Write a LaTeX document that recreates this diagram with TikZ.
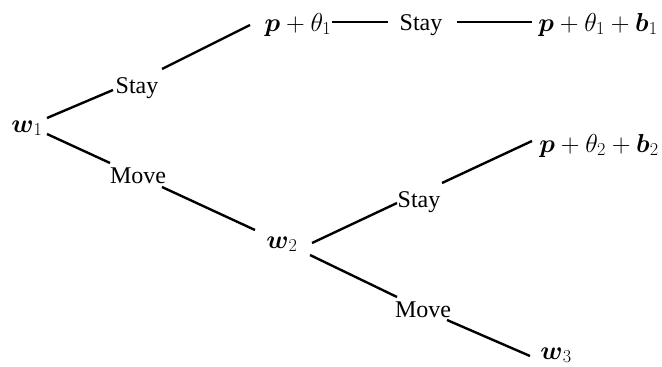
\RequirePackage{fix-cm}
\documentclass[tikz,border=0pt]{standalone}
\usepackage{amsmath}
\usepackage{fontspec}
\setmainfont{Liberation Serif}
\usetikzlibrary{calc}
\newcommand{\bv}[1]{\boldsymbol{#1}}
\begin{document}
\begin{tikzpicture}[x=1pt,y=-1pt,
  lbl/.style={anchor=base,inner sep=0pt,font=\fontsize{24}{28}\selectfont},
  mth/.style={anchor=base,inner sep=0pt,font=\fontsize{26}{31}\selectfont},
  edge/.style={line width=2.4pt},
  thinedge/.style={line width=1.4pt}]
\useasboundingbox (0,0) rectangle (662,367);
% nodes
\node[mth] (w1) at (27,132) {$\bv{w}_1$};
\node[lbl] (stay1) at (137,93) {Stay};
\node[lbl] (move1) at (138,183) {Move};
\node[mth] (p1) at (298,31) {$\bv{p} + \theta_1$};
\node[lbl] (stayT) at (421,30) {Stay};
\node[mth] (pb1) at (598,31) {$\bv{p} + \theta_1 + \bv{b}_1$};
\node[mth] (pb2) at (599,152) {$\bv{p} + \theta_2 + \bv{b}_2$};
\node[lbl] (stay2) at (419,207) {Stay};
\node[mth] (w2) at (282,248) {$\bv{w}_2$};
\node[lbl] (move2) at (423,317) {Move};
\node[mth] (w3) at (556,359) {$\bv{w}_3$};
% connectors
\draw[edge] ($(w1.base)+(20,-14)$) -- ($(stay1.base)+(-24,-3)$);
\draw[edge] ($(stay1.base)+(25,-24)$) -- ($(p1.base)+(-48,-6)$);
\draw[edge] ($(w1.base)+(20,2)$) -- ($(move1.base)+(-28,-20)$);
\draw[edge] ($(move1.base)+(24,4)$) -- ($(w2.base)+(-27,-18)$);
\draw[thinedge] ($(p1.base)+(34,-9)$) -- ($(stayT.base)+(-33,-8)$);
\draw[thinedge] ($(stayT.base)+(36,-8)$) -- ($(pb1.base)+(-66,-9)$);
\draw[edge] ($(w2.base)+(30,-5)$) -- ($(stay2.base)+(-22,-4)$);
\draw[edge] ($(stay2.base)+(23,-24)$) -- ($(pb2.base)+(-67,-11)$);
\draw[edge] ($(w2.base)+(28,7)$) -- ($(move2.base)+(-26,-20)$);
\draw[edge] ($(move2.base)+(24,3)$) -- ($(w3.base)+(-26,-3)$);
\end{tikzpicture}
\end{document}
